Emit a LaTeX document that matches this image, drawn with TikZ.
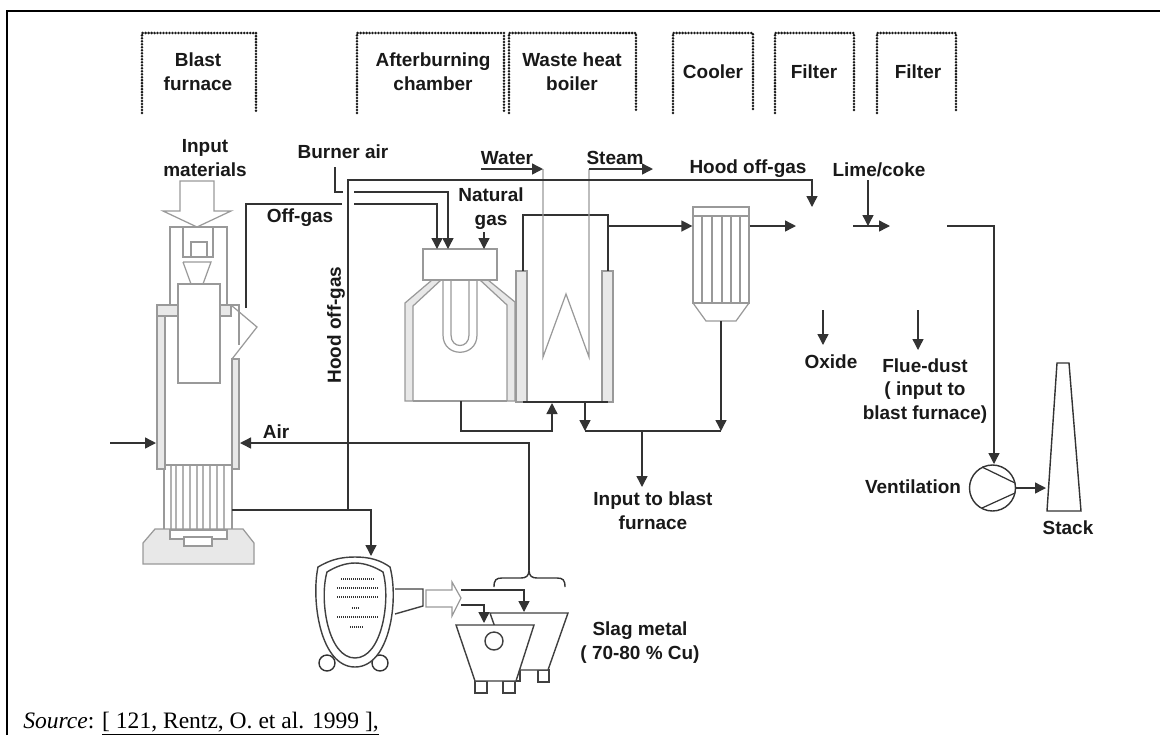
\documentclass[tikz,border=0pt]{standalone}
\usepackage{fontspec}
\setmainfont{Liberation Sans}
\newfontfamily\srcfont{Liberation Serif}
\usetikzlibrary{arrows.meta}
\usetikzlibrary{positioning}

\begin{document}
\begin{tikzpicture}[
                x=0.02cm, y=-0.02cm,
                every node/.style={font=\fontsize{10.8}{13.6}\selectfont\bfseries, align=center, inner sep=0pt, text=black!90},
                station/.style={line width=1.6pt, line cap=round, dash pattern=on 0pt off 1.7pt, draw=black!90},
                frameline/.style={line width=1.4pt, draw=black},
                flow/.style={-{Triangle[length=2.2mm,width=2.2mm]}, line width=0.8pt, draw=black!80},
                pipe/.style={line width=0.8pt, draw=black!80},
                plant/.style={line width=0.7pt, draw=gray!80},
                wall/.style={line width=0.7pt, draw=gray!80, fill=gray!18},
                vessel/.style={line width=0.8pt, draw=black!75, fill=white},
                unitbox/.style={rectangle, line width=0.7pt, draw=gray!80, fill=white},
            ]
            \useasboundingbox (0,0) rectangle (1160,735);

            % Frame
            \draw[frameline] (7,735) -- (7,11) -- (1160,11);

            % Stations
            \foreach \xa/\xb in {142/256, 357/504, 509/636, 673/753, 775/854, 877/956}
                \draw[station] (\xa,113) -- (\xa,33) -- (\xb,33) -- (\xb,111);

            \node (blast_lbl) at (198,72) {Blast\\furnace};
            \node (after_lbl) at (433,72) {Afterburning\\chamber};
            \node (boiler_lbl) at (572,72) {Waste heat\\boiler};
            \node (cooler_lbl) at (713,72) {Cooler};
            \node (filter_lbl) at (814,72) {Filter};
            \node (filter2_lbl) at (918,72) {Filter};

            % Blast furnace
            \draw[plant] (180,181) -- (214,181) -- (214,211) -- (231,211) -- (197,227) -- (163,211) -- (180,211) -- cycle;
            \draw[plant] (170,305) -- (170,227) -- (227,227) -- (227,305);
            \draw[plant] (183,227) -- (183,257) -- (213,257) -- (213,227);
            \draw[plant] (191,257) -- (191,242) -- (207,242) -- (207,257);
            \draw[plant] (183,262) -- (211,262) -- (203,284) (191,284) -- (183,262);
            \draw[wall] (157,305) rectangle (178,316);
            \draw[wall] (220,305) rectangle (231,316);
            \draw[wall] (157,316) rectangle (165,469);
            \draw[wall] (232,359) rectangle (239,469);
            \draw[plant] (178,284) rectangle (220,383);
            \draw[plant] (231,305) -- (239,305) -- (239,345);
            \draw[plant] (231,305) -- (257,327) -- (232,359);
            \draw[plant] (165,465) -- (232,465);
            \draw[plant] (164,469) -- (164,530) (232,469) -- (232,530);
            \foreach \xa in {171,176,183,190,197,203,210,217,224}
                \draw[plant, draw=gray!60] (\xa,466) -- (\xa,530);
            \draw[wall] (143,564) -- (143,543) -- (155,529) -- (243,529) -- (254,543) -- (254,564) -- cycle;
            \draw[plant, fill=white] (170,530) -- (170,539) -- (227,539) -- (227,530) -- cycle;
            \draw[plant, fill=white] (184,537) rectangle (212,546);

            % Afterburning chamber
            \draw[wall] (405,401) -- (405,303) -- (432,280) -- (441,280) -- (413,306) -- (413,401) -- cycle;
            \draw[wall] (507,401) -- (507,305) -- (480,280) -- (488,280) -- (515,302) -- (515,401) -- cycle;
            \draw[plant] (413,401) -- (507,401);
            \draw[plant] (443,280) -- (443,335) .. controls (443,358) and (477,358) .. (477,335) -- (477,280);
            \draw[plant] (451,280) -- (451,335) .. controls (451,349) and (469,349) .. (469,335) -- (469,280);
            \node[unitbox, minimum width=1.48cm, minimum height=0.62cm] (head) at (460,264.5) {};

            % Waste heat boiler
            \draw[wall] (516,271) rectangle (527,402);
            \draw[wall] (602,271) rectangle (613,402);
            \coordinate (boiler_out) at (608,226);
            \coordinate (boiler_in) at (552,403);
            \coordinate (boiler_drop) at (585,402);
            \draw[pipe] (523,402) -- (608,402);
            \draw[pipe] (523,271) -- (523,215) -- (608,215) -- (608,271);

            % Cooler
            \node[unitbox, minimum width=1.12cm, minimum height=0.18cm] (cooler_top) at (721,211.5) {};
            \node[unitbox, minimum width=1.12cm, minimum height=1.74cm] (cooler) at (721,259.5) {};
            \foreach \xa in {702,712,722,731,740}
                \draw[plant] (\xa,216) -- (\xa,303);
            \draw[plant] (693,303) -- (706,321) -- (736,321) -- (749,303);

            % Fan and stack
            \node[circle, draw=black!80, line width=0.8pt, minimum size=0.92cm] (fan) at (992.5,488) {};
            \draw[pipe, line width=0.7pt] (982,467) -- (1015,483) (982,508) -- (1015,493);
            \draw[pipe] (1057,363) -- (1069,363) -- (1081,511) -- (1047,511) -- cycle;
            \coordinate (stack_in) at (1046,488);

            % Converter
            \draw[pipe] (327,663) circle [radius=8];
            \draw[pipe] (380,663) circle [radius=8];
            \draw[vessel] (395,589) -- (423,589) -- (423,606) -- (395,614);
            \draw[vessel] (355,557) .. controls (340,557) and (330,560) .. (318,567) .. controls (311,600) and (320,667) .. (355,667) .. controls (390,667) and (399,600) .. (390,567) .. controls (380,560) and (370,557) .. (355,557) -- cycle;
            \draw[vessel] (355,563) .. controls (345,563) and (335,567) .. (327,572) .. controls (319,600) and (328,658) .. (355,658) .. controls (382,658) and (391,600) .. (383,572) .. controls (375,567) and (365,563) .. (355,563) -- cycle;
            \foreach \ya/\xa/\xb in {579/341/375, 588/337/378, 597/337/378, 608/352/359, 617/337/378, 627/350/364}
                \draw[line width=0.7pt, draw=black!80, dash pattern=on 0.57pt off 0.57pt] (\xa,\ya) -- (\xb,\ya);
            \draw[plant] (426,590) -- (452,590) -- (452,582) -- (461,598) -- (452,616) -- (452,607) -- (426,607) -- cycle;

            % Ladles
            \draw[vessel] (538,670) rectangle (549,682);
            \draw[vessel] (505,670) rectangle (520,681);
            \draw[vessel] (490,613) -- (568,613) -- (548,670) -- (510,670) -- cycle;
            \draw[vessel] (475,681) rectangle (487,693);
            \draw[vessel] (503,681) rectangle (515,693);
            \draw[vessel] (456,625) -- (534,625) -- (516,681) -- (475,681) -- cycle;
            \node[circle, draw=black!75, line width=0.8pt, minimum size=0.36cm] (ladle_eye) at (494,641) {};

            % Coil
            \coordinate (water_in) at (543,169);
            \coordinate (steam_out) at (589,169);
            \draw[plant] (water_in) -- (543,357) -- (566,294) -- (589,357) -- (steam_out);

            % Labels
            \node (input_lbl) at (205,158) {Input\\materials};
            \node (burner_lbl) at (343,152) {Burner air};
            \node (offgas_lbl) at (300,218) {Off-gas};
            \node[rotate=90] (hood_v_lbl) at (336,325) {Hood off-gas};
            \node (air_lbl) at (276,432) {Air};
            \node (gas_lbl) at (491,209) {Natural\\gas};
            \node (water_lbl) at (507,158) {Water};
            \node (steam_lbl) at (615,158) {Steam};
            \node (hood_lbl) at (748,169) {Hood off-gas};
            \node (lime_lbl) at (879,170) {Lime/coke};
            \node (oxide_lbl) at (831,362) {Oxide};
            \node (dust_lbl) at (925,391) {Flue-dust\\( input to\\blast furnace)};
            \node (feed_lbl) at (653,511) {Input to blast\\furnace};
            \node (vent_lbl) at (913,487) {Ventilation};
            \node (stack_lbl) at (1068,528) {Stack};
            \node (slag_lbl) at (640,643) {Slag metal\\( 70-80 \% Cu)};
            \node[anchor=west, font=\srcfont\fontsize{13.4}{15}\selectfont, text=black] (source) at (23,724) {\textit{Source}: \underline{[ 121, Rentz, O. et al. 1999 ],}};

            % Arrows
            \draw[pipe] (335,167) -- (335,192) -- (343,192);
            \draw[flow] (354,192) -- (448,192) -- (448,249);
            \draw[flow] (354,204) -- (437,204) -- (437,249);
            \draw[pipe] (246,308) -- (246,204) -- (342,204);
            \draw[flow] (348,510) -- (348,180) -- (812,180) -- (812,207);
            \draw[flow] (232,510) -- (371,510) -- (371,556);
            \draw[flow] (484,232) -- (484,249);
            \draw[flow] (481,169) -- (water_in);
            \draw[flow] (steam_out) -- (653,169);
            \draw[flow] (boiler_out) -- (cooler.west |- boiler_out);
            \draw[flow] (cooler.east |- boiler_out) -- (796,226);
            \draw[flow] (461,401) -- (461,431) -- (552,431) -- (boiler_in);
            \draw[flow] (boiler_drop) -- (585,431);
            \draw[pipe] (585,431) -- (721,431);
            \draw[flow] (721,321) -- (721,431);
            \draw[flow] (642,431) -- (642,487);
            \draw[flow] (868,180) -- (868,226);
            \draw[flow] (853,226) -- (890,226);
            \draw[flow] (947,226) -- (994,226) -- (994,464);
            \draw[flow] (fan.east) -- (stack_in);
            \draw[flow] (823,310) -- (823,345);
            \draw[flow] (918,310) -- (918,350);
            \draw[flow] (110,443) -- (156,443);
            \draw[flow] (529,570) -- (529,443) -- (240,443);
            \draw[pipe] (494,587) .. controls (494,580) and (496,578) .. (502,578) -- (521,578) .. controls (526,578) and (529,576) .. (529,570) .. controls (529,576) and (532,578) .. (537,578) -- (557,578) .. controls (563,578) and (565,580) .. (565,587);
            \draw[flow] (461,590) -- (524,590) -- (524,612);
            \draw[flow] (461,605) -- (484,605) -- (484,623);

            \end{tikzpicture}
\end{document}
